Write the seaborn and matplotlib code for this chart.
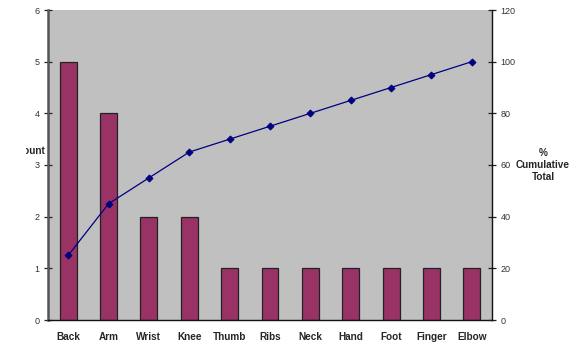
import numpy as np
import pandas as pd
import matplotlib
matplotlib.use("Agg")
import matplotlib.pyplot as plt
from matplotlib.transforms import Bbox
import seaborn as sns

# Injury locations, sorted by frequency (Pareto order)
categories = ["Back", "Arm", "Wrist", "Knee", "Thumb", "Ribs", "Neck",
              "Hand", "Foot", "Finger", "Elbow"]
counts = [5, 4, 2, 2, 1, 1, 1, 1, 1, 1, 1]
cumulative_pct = [25, 45, 55, 65, 70, 75, 80, 85, 90, 95, 100]
left_ticks = [0, 1, 2, 3, 4, 5, 6]
right_ticks = [0, 20, 40, 60, 80, 100, 120]

df = pd.DataFrame({"Location": categories, "Count": counts,
                   "Cumulative": cumulative_pct})

sns.set_style("white")
plt.rcParams["font.family"] = ["Liberation Sans", "DejaVu Sans"]

W, H = 581, 344
fig = plt.figure(figsize=(W / 100, H / 100), dpi=100)
ax = fig.add_axes([48 / W, 1 - 320 / H, (492 - 48) / W, (320 - 10) / H])
ax.set_facecolor("#C0C0C0")

sns.barplot(data=df, x="Location", y="Count", ax=ax, color="#993366",
            saturation=1, width=0.42, edgecolor="#222222", linewidth=0.9)

ax2 = ax.twinx()
sns.lineplot(x=np.arange(len(categories)), y=df["Cumulative"], ax=ax2,
             color="#000080", linewidth=0.9, marker="D", markersize=3.5,
             markeredgecolor="#000080")

n = len(categories)
ax.set_xlim(-0.5, n - 0.5)
ax.set_ylim(0, 6)
ax2.set_ylim(0, 120)
ax.set_yticks(left_ticks)
ax2.set_yticks(right_ticks)

# Category tick marks sit on the boundaries between bars
ax.set_xticks(np.arange(n))
ax.set_xticklabels(categories, fontsize=7.2, fontweight="bold")
ax.set_xticks(np.arange(-0.5, n), minor=True)
ax.tick_params(axis="x", which="major", length=0, pad=9)
ax.tick_params(axis="x", which="minor", length=6, width=0.9,
               direction="inout", color="#222222")
ax.tick_params(axis="y", length=6, width=0.9, direction="inout",
               labelsize=6.5, labelcolor="#333333", color="#222222", pad=3)
ax2.tick_params(axis="y", length=6, width=0.9, direction="inout",
                labelsize=6.5, labelcolor="#333333", color="#222222", pad=3)

ax.set_xlabel("")
ax.set_ylabel("")
ax2.set_ylabel("")

for a in (ax, ax2):
    for s in a.spines.values():
        s.set_visible(False)
ax.spines["left"].set_visible(True)
ax.spines["left"].set_color("#555555")
ax.spines["left"].set_linewidth(1.8)
ax.spines["bottom"].set_visible(True)
ax.spines["bottom"].set_color("#111111")
ax.spines["bottom"].set_linewidth(1.0)
ax2.spines["right"].set_visible(True)
ax2.spines["right"].set_color("#111111")
ax2.spines["right"].set_linewidth(1.0)

# Left axis title, cut off by its narrow label box
count_label = fig.text(45 / W, 1 - 151 / H, "Count", ha="right", va="center",
                       fontsize=7.2, fontweight="bold")
count_label.set_clip_box(Bbox([[26, 0], [60, H]]))
count_label.set_clip_on(True)

fig.text(543 / W, 1 - 165 / H, "%\nCumulative\nTotal", ha="center",
         va="center", fontsize=7.2, fontweight="bold", linespacing=1.2)

fig.savefig("out.png", dpi=100)
